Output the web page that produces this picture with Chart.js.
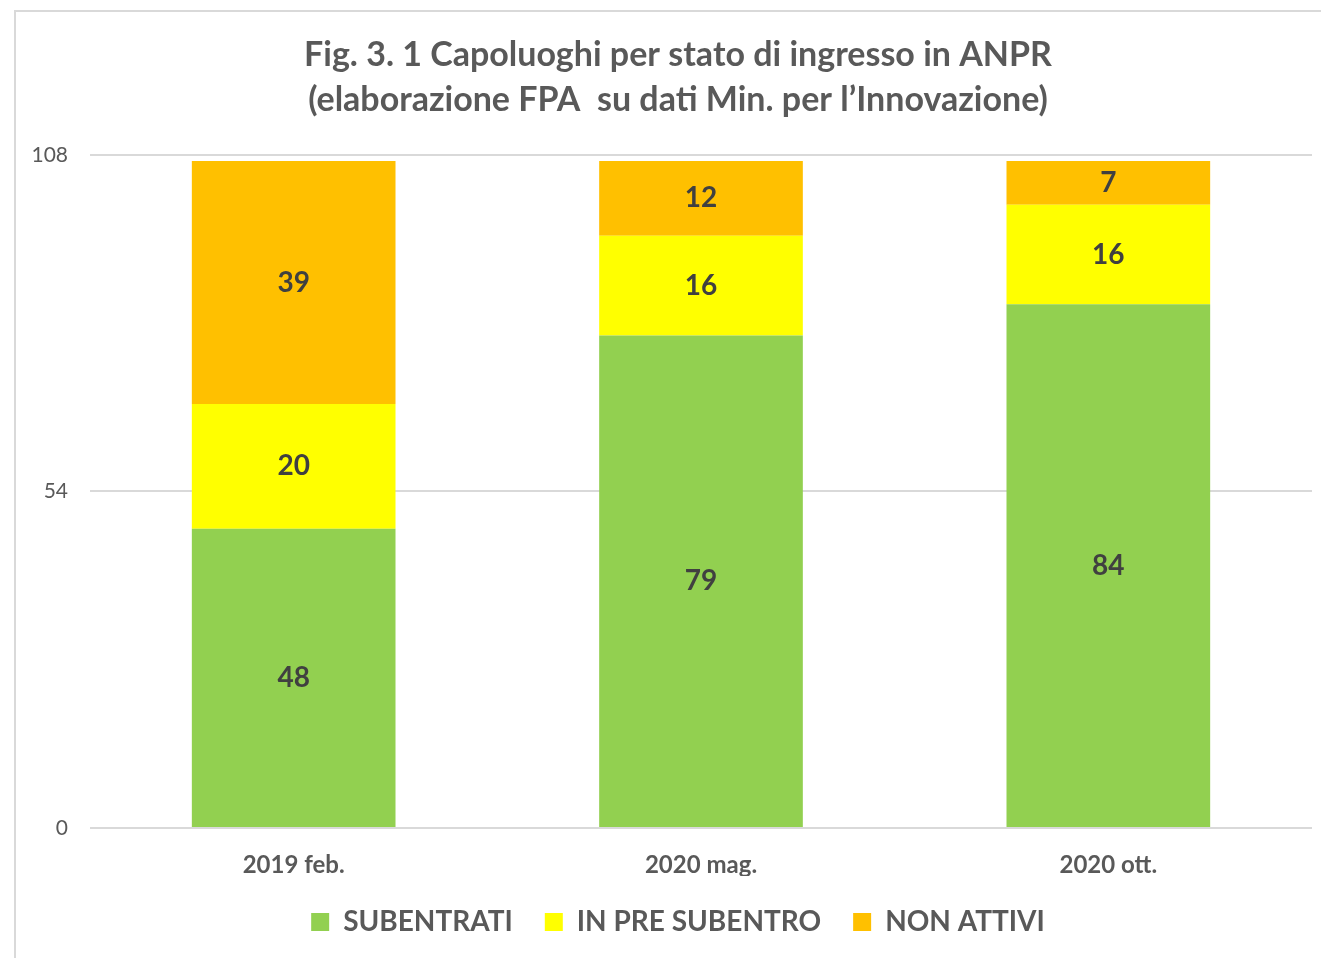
<!DOCTYPE html>
<html>
<head>
<meta charset="utf-8">
<script src="https://cdn.jsdelivr.net/npm/chart.js@4.4.1/dist/chart.umd.min.js"></script>
<style>
  html, body { margin: 0; padding: 0; background: #fff; overflow: hidden; }
  #frame {
    position: absolute; left: 14px; top: 10px;
    width: 1340px; height: 960px;
    border-top: 2px solid #d9d9d9; border-left: 2px solid #d9d9d9;
  }
  #wrap { position: absolute; left: 0; top: 0; width: 1325px; height: 946px; }
</style>
</head>
<body>
<div id="frame"><div id="wrap"><canvas id="chart"></canvas></div></div>
<script>
// Capoluoghi per stato di ingresso in ANPR
const periods = ['2019 feb.', '2020 mag.', '2020 ott.'];
const subentrati = [48, 79, 84];
const inPreSubentro = [20, 16, 16];
const nonAttivi = [39, 12, 7];
const yTicks = [0, 54, 108];

const FONT = 'Lato, "Open Sans", sans-serif';
const GREY = '#595959';

// y labels are drawn mirrored (so they are not clipped to the narrow axis box),
// so the padding has to step back over the widest label
const probe = document.createElement('canvas').getContext('2d');
probe.font = '21px ' + FONT;
const widestTick = Math.max(...yTicks.map(v => probe.measureText(String(v)).width));

// draws the value in the middle of each stacked segment
const segmentLabels = {
    id: 'segmentLabels',
    afterDatasetsDraw(chart) {
        const ctx = chart.ctx;
        ctx.save();
        ctx.font = 'bold 28px ' + FONT;
        ctx.fillStyle = '#404040';
        ctx.textAlign = 'center';
        ctx.textBaseline = 'middle';
        chart.data.datasets.forEach((ds, i) => {
            chart.getDatasetMeta(i).data.forEach((bar, j) => {
                const p = bar.getProps(['x', 'y', 'base'], true);
                ctx.fillText(ds.data[j], p.x, (p.y + p.base) / 2);
            });
        });
        ctx.restore();
    }
};

new Chart(document.getElementById('chart'), {
    type: 'bar',
    data: {
        labels: periods,
        datasets: [
            { label: 'SUBENTRATI', data: subentrati, backgroundColor: '#92d050' },
            { label: 'IN PRE SUBENTRO', data: inPreSubentro, backgroundColor: '#ffff00' },
            { label: 'NON ATTIVI', data: nonAttivi, backgroundColor: '#ffc000' }
        ]
    },
    options: {
        responsive: true,
        maintainAspectRatio: false,
        animation: false,
        datasets: { bar: { categoryPercentage: 1, barPercentage: 0.5 } },
        layout: { padding: { left: 28, right: 29, top: 0, bottom: 12 } },
        plugins: {
            title: {
                display: true,
                text: ['Fig. 3. 1 Capoluoghi per stato di ingresso in ANPR',
                       '(elaborazione FPA  su dati Min. per l\u2019Innovazione)'],
                color: GREY,
                font: { family: FONT, size: 34, weight: 'bold', lineHeight: 1.32 },
                padding: { top: 21, bottom: 32 }
            },
            legend: {
                position: 'bottom',
                labels: {
                    color: GREY,
                    font: { family: FONT, size: 28, weight: 'bold' },
                    boxWidth: 18,
                    boxHeight: 18,
                    padding: 32
                }
            },
            tooltip: { enabled: false }
        },
        scales: {
            x: {
                stacked: true,
                grid: { display: false, drawTicks: false },
                border: { display: false },
                ticks: {
                    color: GREY,
                    font: { family: FONT, size: 24, weight: 'bold' },
                    padding: 23
                },
                afterFit(scale) { scale.height = 48; }
            },
            y: {
                stacked: true,
                min: 0,
                max: 108,
                afterBuildTicks(scale) { scale.ticks = yTicks.map(v => ({ value: v })); },
                grid: { color: '#d9d9d9', lineWidth: 2, drawTicks: false },
                border: { display: false },
                ticks: {
                    color: GREY,
                    font: { family: FONT, size: 21 },
                    mirror: true,
                    crossAlign: 'far',
                    padding: -22 - widestTick
                },
                afterFit(scale) { scale.width = 46; }
            }
        }
    },
    plugins: [segmentLabels]
});
</script>
</body>
</html>
